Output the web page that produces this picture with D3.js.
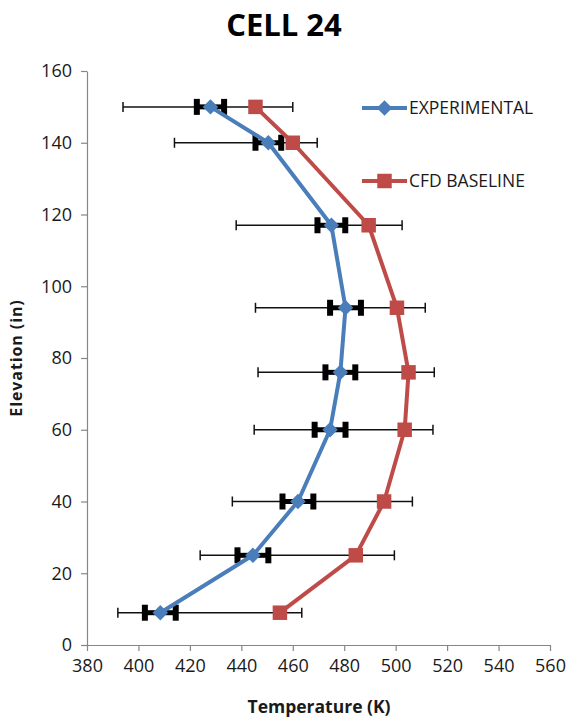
<!DOCTYPE html>
<html>
<head>
<meta charset="utf-8">
<script src="https://cdn.jsdelivr.net/npm/d3@7"></script>
<style>
  body { margin: 0; background: #fff; }
  text { font-family: "Open Sans", "DejaVu Sans", sans-serif; fill: #1a1a1a; }
</style>
</head>
<body>
<div id="chart"></div>
<script>
// elevation of each measurement (in)
var elevation    = [150, 140, 117, 94, 76, 60, 40, 25, 9];
// temperatures (K)
var experimental = [428, 450.5, 475, 480.5, 478.5, 474.5, 462, 444.5, 408.5];
var cfdBaseline  = [445.5, 460, 489.5, 500.5, 505, 503.5, 495.5, 484.5, 455];
// short (thick) error bars on experimental, +/- K
var expError     = [5.3, 5, 5.4, 6, 5.8, 6, 6, 6, 6];
// long (thin) error bars, low / high end (K)
var rangeLow     = [394, 414, 438, 445.5, 446.5, 445, 436.5, 424, 392];
var rangeHigh    = [460, 469.5, 502.5, 511.5, 515, 514.5, 506.5, 499.5, 463.5];

var xTicks = [380, 400, 420, 440, 460, 480, 500, 520, 540, 560];
var yTicks = [0, 20, 40, 60, 80, 100, 120, 140, 160];

var W = 570, H = 721;
var margin = {top: 71, right: 20, bottom: 76, left: 87};

var blue = "#4a7ebb", red = "#be4b48";

var svg = d3.select("#chart").append("svg")
  .attr("width", W)
  .attr("height", H);

var x = d3.scaleLinear().domain([380, 560]).range([margin.left, W - margin.right]);
var y = d3.scaleLinear().domain([0, 160]).range([H - margin.bottom, margin.top]);

// title
svg.append("text")
  .attr("x", 284).attr("y", 36)
  .attr("text-anchor", "middle")
  .style("font-size", "31px").style("font-weight", "bold")
  .style("fill", "#000")
  .text("CELL 24");

// axes
var xAxis = svg.append("g")
  .attr("transform", "translate(0," + y(0) + ")")
  .call(d3.axisBottom(x).tickValues(xTicks).tickSize(6).tickPadding(8).tickSizeOuter(0));
var yAxis = svg.append("g")
  .attr("transform", "translate(" + x(380) + ",0)")
  .call(d3.axisLeft(y).tickValues(yTicks).tickSize(6).tickPadding(9).tickSizeOuter(0));

[xAxis, yAxis].forEach(function(a) {
  a.select(".domain").attr("stroke", "#868686").attr("stroke-width", 1.2);
  a.selectAll(".tick line").attr("stroke", "#868686").attr("stroke-width", 1.2);
  a.selectAll(".tick text")
    .style("font-size", "18px")
    .style("font-family", "'Open Sans', sans-serif")
    .attr("fill", "#1a1a1a");
});

// axis titles
svg.append("text")
  .attr("x", 319).attr("y", 713)
  .attr("text-anchor", "middle")
  .style("font-size", "17.5px").style("font-weight", "bold")
  .text("Temperature (K)");

svg.append("text")
  .attr("transform", "translate(22,358) rotate(-90)")
  .attr("text-anchor", "middle")
  .style("font-size", "16px").style("font-weight", "bold")
  .style("letter-spacing", "0.9px")
  .text("Elevation (in)");

var rows = elevation.map(function(e, i) {
  return {e: e, exp: experimental[i], cfd: cfdBaseline[i], err: expError[i],
          lo: rangeLow[i], hi: rangeHigh[i]};
});

// long thin error bars
var thin = svg.append("g").attr("stroke", "#111").attr("stroke-width", 1.5);
rows.forEach(function(d) {
  thin.append("line")
    .attr("x1", x(d.lo)).attr("x2", x(d.hi))
    .attr("y1", y(d.e)).attr("y2", y(d.e));
  [d.lo, d.hi].forEach(function(v) {
    thin.append("line")
      .attr("x1", x(v)).attr("x2", x(v))
      .attr("y1", y(d.e) - 5).attr("y2", y(d.e) + 5);
  });
});

// short thick error bars
var thick = svg.append("g").attr("stroke", "#000");
rows.forEach(function(d) {
  thick.append("line")
    .attr("stroke-width", 5)
    .attr("x1", x(d.exp - d.err)).attr("x2", x(d.exp + d.err))
    .attr("y1", y(d.e)).attr("y2", y(d.e));
  [d.exp - d.err, d.exp + d.err].forEach(function(v) {
    thick.append("line")
      .attr("stroke-width", 6)
      .attr("x1", x(v)).attr("x2", x(v))
      .attr("y1", y(d.e) - 8).attr("y2", y(d.e) + 8);
  });
});

var diamond = d3.symbol().type(d3.symbolSquare).size(120);
var square = d3.symbol().type(d3.symbolSquare).size(210);

// experimental series
svg.append("path")
  .datum(rows)
  .attr("fill", "none").attr("stroke", blue).attr("stroke-width", 4)
  .attr("stroke-linejoin", "round")
  .attr("d", d3.line().x(function(d) { return x(d.exp); }).y(function(d) { return y(d.e); }));
svg.append("g").selectAll("path")
  .data(rows).enter().append("path")
  .attr("d", diamond)
  .attr("fill", blue)
  .attr("transform", function(d) { return "translate(" + x(d.exp) + "," + y(d.e) + ") rotate(45)"; });

// cfd series
svg.append("path")
  .datum(rows)
  .attr("fill", "none").attr("stroke", red).attr("stroke-width", 4)
  .attr("stroke-linejoin", "round")
  .attr("d", d3.line().x(function(d) { return x(d.cfd); }).y(function(d) { return y(d.e); }));
svg.append("g").selectAll("path")
  .data(rows).enter().append("path")
  .attr("d", square)
  .attr("fill", red)
  .attr("transform", function(d) { return "translate(" + x(d.cfd) + "," + y(d.e) + ")"; });

// legend
var legend = [
  {name: "EXPERIMENTAL", color: blue, sym: diamond, rot: 45, ly: 108},
  {name: "CFD BASELINE", color: red, sym: square, rot: 0, ly: 181}
];
legend.forEach(function(l) {
  var g = svg.append("g").attr("transform", "translate(362," + l.ly + ")");
  g.append("line").attr("x1", 0).attr("x2", 45)
    .attr("stroke", l.color).attr("stroke-width", 4);
  g.append("path").attr("d", l.sym).attr("fill", l.color)
    .attr("transform", "translate(22.5,0) rotate(" + l.rot + ")");
  g.append("text").attr("x", 47).attr("y", 0).attr("dy", "0.35em")
    .style("font-size", "17.5px")
    .text(l.name);
});
</script>
</body>
</html>
